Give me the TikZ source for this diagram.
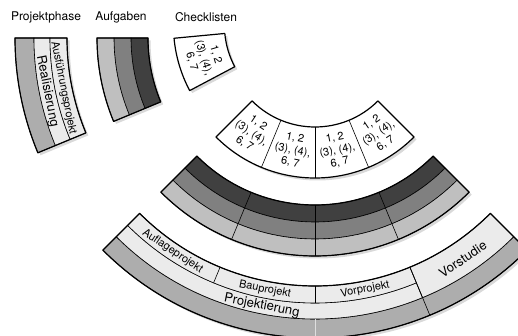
\documentclass[tikz,border=0pt]{standalone}
\usepackage{fontspec}
\setmainfont{TeX Gyre Heros}
\usetikzlibrary{shadows}

\definecolor{dunkel}{gray}{0.25}
\definecolor{mittel}{gray}{0.5}
\definecolor{hell}{gray}{0.75}
\definecolor{blass}{gray}{0.92}
\definecolor{aussen}{gray}{0.68}

% ring piece: [style]{centre}{from angle}{to angle}{inner r}{outer r}
\newcommand{\ringpart}[6][]{%
  \path[#1] ([shift={(#2)}]#3:#5) arc[start angle=#3,end angle=#4,radius=#5]
    -- ([shift={(#2)}]#4:#6) arc[start angle=#4,end angle=#3,radius=#6] -- cycle;}

\begin{document}
\begin{tikzpicture}[x=1pt,y=1pt,
  rand/.style={draw=black,line width=1.2pt,line join=round},
  schatten/.style={fill=white,drop shadow={shadow xshift=2.5pt,shadow yshift=-2.5pt,opacity=0.3}},
  teil/.style={draw=black,line width=0.6pt},
  klein/.style={font=\fontsize{11}{12.5}\selectfont,inner sep=0pt,align=center},
  gross/.style={font=\fontsize{13}{14}\selectfont,inner sep=0pt},
  kopf/.style={font=\fontsize{12}{14}\selectfont,inner sep=0pt}]
\useasboundingbox (0,0) rectangle (518,336);
\coordinate (mitte) at (315,298);
\coordinate (cmitte) at (313.4,310.9);

% headings
\node[kopf] (kphase) at (46,319) {Projektphase};
\node[kopf] (kaufg) at (121,319) {Aufgaben};
\node[kopf] (kcheck) at (206,319) {Checklisten};

% legend Projektphase
\ringpart[schatten]{mitte}{180}{202.5}{248}{300}
\ringpart[fill=aussen,teil]{mitte}{180}{202.5}{281}{300}
\ringpart[fill=blass,teil]{mitte}{180}{202.5}{265}{281}
\ringpart[fill=blass,teil]{mitte}{180}{202.5}{248}{265}
\ringpart[rand]{mitte}{180}{202.5}{248}{300}
\node[gross,rotate=281.25] (lreal) at ([shift={(mitte)}]191.25:273) {Realisierung};
\node[klein,rotate=281.25] (lausf) at ([shift={(mitte)}]191.25:256.5) {Ausführungsprojekt};

% legend Aufgaben
\ringpart[schatten]{mitte}{180}{202.5}{167}{218}
\ringpart[fill=dunkel,teil]{mitte}{180}{202.5}{167}{184}
\ringpart[fill=mittel,teil]{mitte}{180}{202.5}{184}{201}
\ringpart[fill=hell,teil]{mitte}{180}{202.5}{201}{218}
\ringpart[rand]{mitte}{180}{202.5}{167}{218}

% legend Checklisten
\ringpart[schatten]{cmitte}{185.4}{207.9}{89}{140}
\ringpart[rand]{cmitte}{185.4}{207.9}{89}{140}
\node[klein,rotate=286.65] (lcheck) at ([shift={(cmitte)}]196.65:114.5) {1, 2\\(3), (4),\\6, 7};

% checklist band
\ringpart[schatten]{mitte}{225}{315}{89}{140}
\foreach \w in {247.5,270,292.5}
  \draw[teil] ([shift={(mitte)}]\w:89) -- ([shift={(mitte)}]\w:140);
\foreach \w [count=\i] in {236.25,258.75,281.25,303.75}
  \node[klein,rotate=\w+90] (check\i) at ([shift={(mitte)}]\w:114.5) {1, 2\\(3), (4),\\6, 7};
\ringpart[rand]{mitte}{225}{315}{89}{140}

% task band
\ringpart[schatten]{mitte}{225}{315}{167}{218}
\ringpart[fill=dunkel,teil]{mitte}{225}{315}{167}{184}
\ringpart[fill=mittel,teil]{mitte}{225}{315}{184}{201}
\ringpart[fill=hell,teil]{mitte}{225}{315}{201}{218}
\foreach \w in {247.5,270,292.5}
  \draw[teil] ([shift={(mitte)}]\w:167) -- ([shift={(mitte)}]\w:218);
\ringpart[rand]{mitte}{225}{315}{167}{218}

% phase band
\ringpart[schatten]{mitte}{225}{315}{248}{300}
\ringpart[fill=aussen,teil]{mitte}{225}{315}{281}{300}
\ringpart[fill=blass,teil]{mitte}{225}{292.5}{265}{281}
\ringpart[fill=blass,teil]{mitte}{225}{292.5}{248}{265}
\ringpart[fill=blass,teil]{mitte}{292.5}{315}{248}{281}
\foreach \w in {247.5,270}
  \draw[teil] ([shift={(mitte)}]\w:248) -- ([shift={(mitte)}]\w:265);
\draw[teil] ([shift={(mitte)}]292.5:248) -- ([shift={(mitte)}]292.5:300);
\draw[draw=white!75!gray,line width=0.5pt] ([shift={(mitte)}]270:281.5) -- ([shift={(mitte)}]270:300);
\ringpart[rand]{mitte}{225}{315}{248}{300}
\node[klein,rotate=326.25] (auflage) at ([shift={(mitte)}]236.25:256.5) {Auflageprojekt};
\node[klein,rotate=348.75] (bau) at ([shift={(mitte)}]258.75:256.5) {Bauprojekt};
\node[klein,rotate=11.25] (vor) at ([shift={(mitte)}]281.25:256.5) {Vorprojekt};
\node[gross,rotate=348.75] (projekt) at ([shift={(mitte)}]258.75:273) {Projektierung};
\node[gross,rotate=33.75] (studie) at ([shift={(mitte)}]303.75:266) {Vorstudie};
\end{tikzpicture}
\end{document}
